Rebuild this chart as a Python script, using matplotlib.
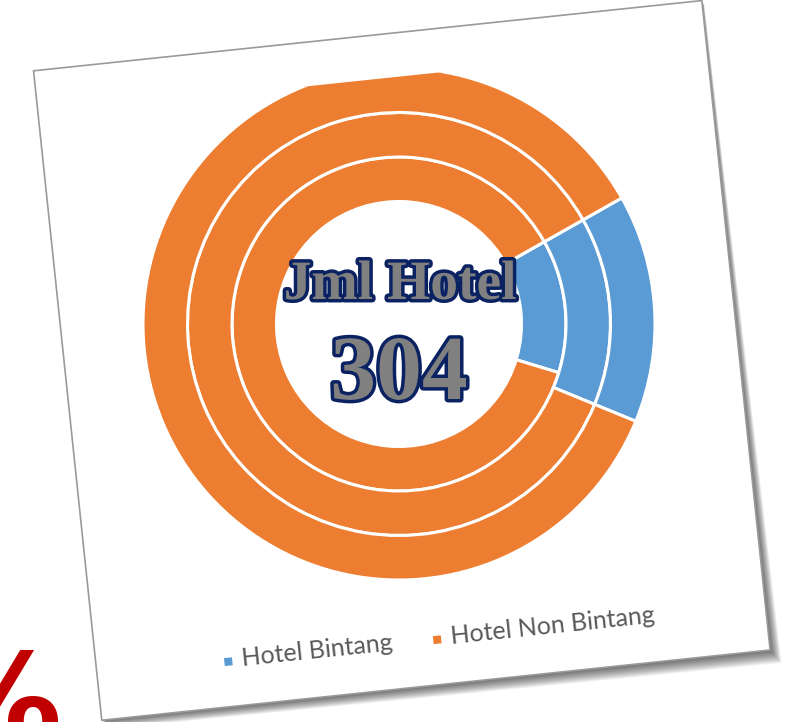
import numpy as np
import matplotlib
matplotlib.use("Agg")
import matplotlib.pyplot as plt
from matplotlib.patches import Wedge, Polygon, Rectangle
import matplotlib.patheffects as pe

# data: share of Hotel Bintang / Hotel Non Bintang per ring (inner -> outer), in %
labels = ["Hotel Bintang", "Hotel Non Bintang"]
bintang = [12.9, 14.4, 14.4]
non_bintang = [87.1, 85.6, 85.6]
total_hotel = 304
colors = ["#5B9BD5", "#ED7D31"]

W, H = 789, 722
fig = plt.figure(figsize=(W / 100, H / 100), dpi=100)
ax = fig.add_axes([0, 0, 1, 1])
ax.set_xlim(0, W)
ax.set_ylim(0, H)
ax.set_aspect("equal")
ax.axis("off")

# the whole chart is a picture tilted by ~6 degrees
tilt = 6.0
cx, cy = 399, H - 324
c, s = np.cos(np.radians(tilt)), np.sin(np.radians(tilt))


def local(u, v):
    return (cx + u * c - v * s, cy + u * s + v * c)


# card with shadow
card = [(-337, 290), (335, 290), (335, -363), (-337, -363)]
for i in range(14, 0, -1):
    k = i / 14
    sh = [local(-337, 290 - 4 * k), local(335 + 2 * k, 290 - 4 * k),
          local(335 + 10 * k, -363 - 14 * k), local(-337 + 4 * k, -363 - 9 * k)]
    ax.add_patch(Polygon(sh, closed=True, fc="#000000", ec="none", alpha=0.05, zorder=1))
ax.add_patch(Polygon([local(u, v) for u, v in card], closed=True,
                     fc="white", ec="#9a9a9a", lw=1.2, zorder=2))

# plot area clip
clip = Polygon([local(-330, 246), local(328, 246), local(328, -327), local(-330, -327)],
               closed=True, fc="none", ec="none", transform=ax.transData)
ax.add_patch(clip)

# doughnut rings
hole = 122.5
ring_w = (256 - hole) / 3
start = 29.5  # angle where Hotel Bintang starts, going clockwise
for i in range(3):
    r = hole + ring_w * (i + 1)
    tot = bintang[i] + non_bintang[i]
    sweep = 360 * bintang[i] / tot
    w1 = Wedge((cx, cy), r, start - sweep, start, width=ring_w,
               fc=colors[0], ec="white", lw=2.2, zorder=3)
    w2 = Wedge((cx, cy), r, start, start - sweep + 360, width=ring_w,
               fc=colors[1], ec="white", lw=2.2, zorder=3)
    for w in (w1, w2):
        ax.add_patch(w)
        w.set_clip_path(clip)

# centre text
fx = [pe.Stroke(linewidth=5, foreground="#0b2262"), pe.Normal()]
ax.text(400, H - 299, "Jml Hotel", ha="center", va="baseline", fontsize=40,
        family="Liberation Serif", fontweight="bold", color="#808080",
        path_effects=fx, zorder=5)
ax.text(399, H - 399, str(total_hotel), ha="center", va="baseline", fontsize=66,
        family="Liberation Serif", fontweight="bold", color="#808080",
        path_effects=fx, zorder=5)

# legend (tilted with the card)
leg_u = [-205, 5]
for lab, col, u in zip(labels, colors, leg_u):
    x0, y0 = local(u, -318)
    ax.add_patch(Rectangle((x0 - 4, y0 - 4), 8, 8, angle=tilt, rotation_point="center",
                           fc=col, ec="none", zorder=4))
    tx, ty = local(u + 14, -316)
    t = ax.text(tx, ty, lab, ha="left", va="center", rotation=tilt, rotation_mode="anchor",
                fontsize=18, family="Lato", color="#595959", zorder=4)
    t.set_clip_path(clip)

# red percent sign peeking in at the bottom-left
ax.text(-66, H - 745, "%", ha="left", va="baseline", fontsize=92, fontweight="bold",
        family="DejaVu Sans", color="#C00000", zorder=6)

fig.savefig("out.png", dpi=100)
